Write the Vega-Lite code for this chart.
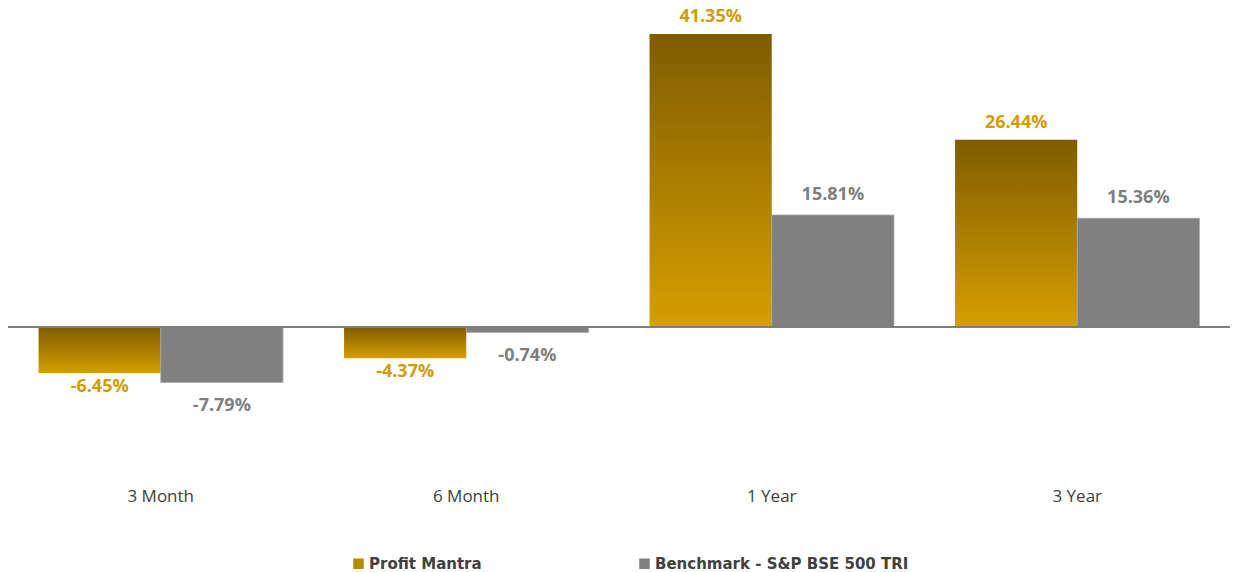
{
  "$schema": "https://vega.github.io/schema/vega-lite/v6.json",
  "width": 1222,
  "height": 461,
  "autosize": "none",
  "padding": {"left": 8, "top": 8, "right": 5, "bottom": 103},
  "background": "white",
  "config": {
    "view": {"stroke": null},
    "font": "Open Sans"
  },
  "data": {
    "values": [
      {"period": "3 Month", "series": "Profit Mantra", "value": -6.45},
      {"period": "3 Month", "series": "Benchmark - S&P BSE 500 TRI", "value": -7.79},
      {"period": "6 Month", "series": "Profit Mantra", "value": -4.37},
      {"period": "6 Month", "series": "Benchmark - S&P BSE 500 TRI", "value": -0.74},
      {"period": "1 Year", "series": "Profit Mantra", "value": 41.35},
      {"period": "1 Year", "series": "Benchmark - S&P BSE 500 TRI", "value": 15.81},
      {"period": "3 Year", "series": "Profit Mantra", "value": 26.44},
      {"period": "3 Year", "series": "Benchmark - S&P BSE 500 TRI", "value": 15.36}
    ]
  },
  "transform": [
    {"calculate": "replace(format(datum.value, '.2f'), '\u2212', '-') + '%'", "as": "label"}
  ],
  "encoding": {
    "x": {
      "field": "period",
      "type": "nominal",
      "sort": ["3 Month", "6 Month", "1 Year", "3 Year"],
      "scale": {"paddingInner": 0.2, "paddingOuter": 0.1},
      "axis": {
        "title": null,
        "domain": false,
        "ticks": false,
        "labelAngle": 0,
        "labelFontSize": 17,
        "labelColor": "#404040",
        "labelPadding": 19
      }
    },
    "xOffset": {
      "field": "series",
      "type": "nominal",
      "sort": ["Profit Mantra", "Benchmark - S&P BSE 500 TRI"]
    },
    "y": {
      "field": "value",
      "type": "quantitative",
      "scale": {"domain": [-20, 45], "nice": false, "zero": true},
      "axis": null
    }
  },
  "layer": [
    {
      "mark": {"type": "bar"},
      "encoding": {
        "fill": {
          "condition": {
            "test": "datum.series === 'Profit Mantra'",
            "value": {
              "gradient": "linear",
              "x1": 0, "y1": 0, "x2": 0, "y2": 1,
              "stops": [
                {"offset": 0, "color": "#7F5C00"},
                {"offset": 1, "color": "#D69F00"}
              ]
            }
          },
          "value": "#808080"
        },
        "stroke": {
          "condition": {"test": "datum.series === 'Profit Mantra'", "value": null},
          "value": "#A6A6A6"
        },
        "strokeWidth": {"value": 0.8}
      }
    },
    {
      "mark": {"type": "square", "opacity": 0},
      "encoding": {
        "color": {
          "field": "series",
          "type": "nominal",
          "sort": ["Profit Mantra", "Benchmark - S&P BSE 500 TRI"],
          "scale": {"range": ["#B88A00", "#808080"]},
          "legend": {
            "title": null,
            "orient": "none",
            "legendX": 343,
            "legendY": 548,
            "direction": "horizontal",
            "symbolType": "square",
            "symbolSize": 110,
            "symbolOpacity": 1,
            "symbolStrokeWidth": 0,
            "labelFont": "DejaVu Sans",
            "labelFontSize": 15,
            "labelFontWeight": "bold",
            "labelColor": "#404040",
            "labelOffset": 3,
            "labelLimit": 500,
            "columnPadding": 155
          }
        }
      }
    },
    {
      "mark": {"type": "rule", "color": "#7F7F7F", "strokeWidth": 1},
      "encoding": {
        "x": {"value": 0},
        "x2": {"value": 1222},
        "y": {"datum": 0},
        "xOffset": null
      }
    },
    {
      "transform": [{"filter": "datum.series === 'Profit Mantra' && datum.value >= 0"}],
      "mark": {"type": "text", "dy": -17, "baseline": "middle", "fontSize": 18, "fontWeight": "bold", "color": "#D19C06"},
      "encoding": {"text": {"field": "label", "type": "nominal"}}
    },
    {
      "transform": [{"filter": "datum.series === 'Profit Mantra' && datum.value < 0"}],
      "mark": {"type": "text", "dy": 14, "baseline": "middle", "fontSize": 18, "fontWeight": "bold", "color": "#D19C06"},
      "encoding": {"text": {"field": "label", "type": "nominal"}}
    },
    {
      "transform": [{"filter": "datum.series !== 'Profit Mantra' && datum.value >= 0"}],
      "mark": {"type": "text", "dy": -20, "baseline": "middle", "fontSize": 18, "fontWeight": "bold", "color": "#7F7F7F"},
      "encoding": {"text": {"field": "label", "type": "nominal"}}
    },
    {
      "transform": [{"filter": "datum.series !== 'Profit Mantra' && datum.value < 0"}],
      "mark": {"type": "text", "dy": 24, "baseline": "middle", "fontSize": 18, "fontWeight": "bold", "color": "#7F7F7F"},
      "encoding": {"text": {"field": "label", "type": "nominal"}}
    }
  ]
}
